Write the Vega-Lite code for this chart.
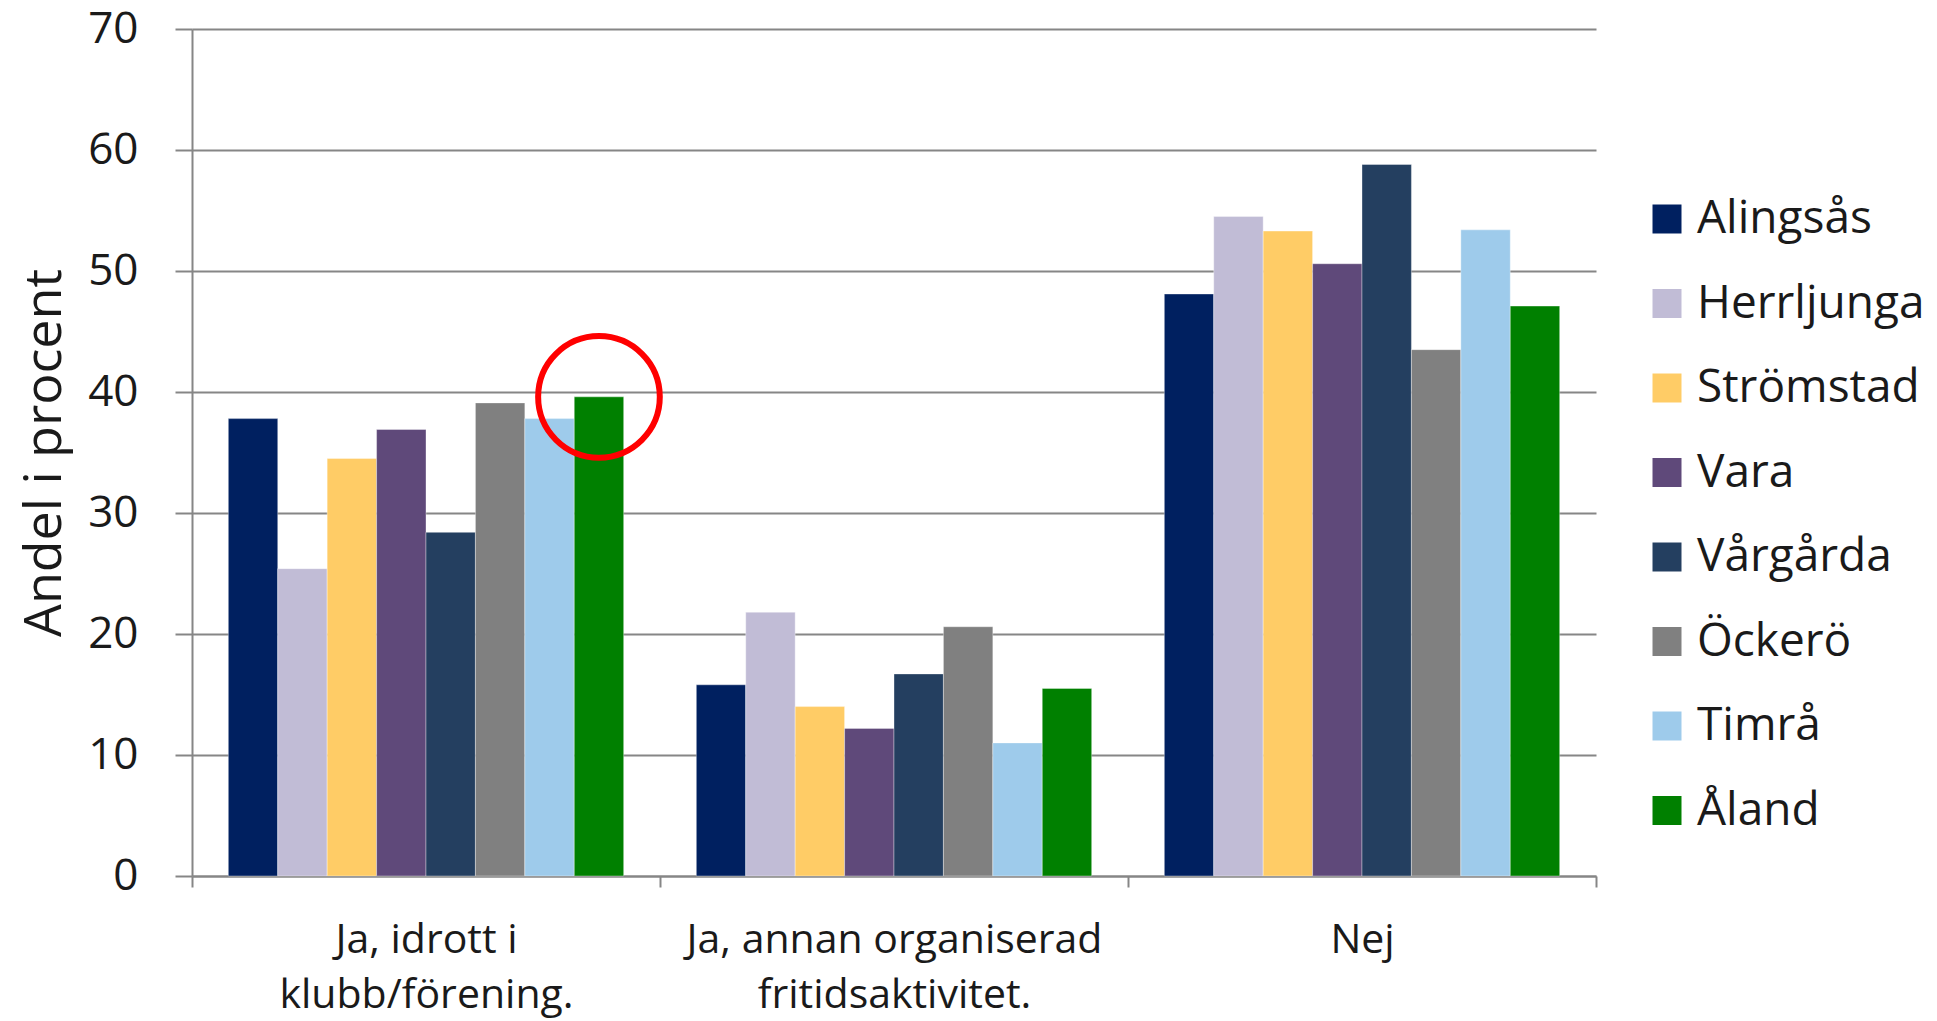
{
  "$schema": "https://vega.github.io/schema/vega-lite/v6.json",
  "width": 1404,
  "height": 847,
  "autosize": {"type": "none"},
  "padding": {"left": 192, "top": 29, "right": 341, "bottom": 145},
  "background": "white",
  "config": {
    "font": "Open Sans",
    "view": {"stroke": null},
    "axis": {"labelColor": "#1a1a1a", "titleColor": "#1a1a1a", "domainColor": "#868686", "tickColor": "#868686", "gridColor": "#868686"}
  },
  "data": {
    "values": [
      {"svar": "Ja, idrott i klubb/förening.", "kommun": "Alingsås", "andel": 37.8},
      {"svar": "Ja, idrott i klubb/förening.", "kommun": "Herrljunga", "andel": 25.4},
      {"svar": "Ja, idrott i klubb/förening.", "kommun": "Strömstad", "andel": 34.5},
      {"svar": "Ja, idrott i klubb/förening.", "kommun": "Vara", "andel": 36.9},
      {"svar": "Ja, idrott i klubb/förening.", "kommun": "Vårgårda", "andel": 28.4},
      {"svar": "Ja, idrott i klubb/förening.", "kommun": "Öckerö", "andel": 39.1},
      {"svar": "Ja, idrott i klubb/förening.", "kommun": "Timrå", "andel": 37.8},
      {"svar": "Ja, idrott i klubb/förening.", "kommun": "Åland", "andel": 39.6},
      {"svar": "Ja, annan organiserad fritidsaktivitet.", "kommun": "Alingsås", "andel": 15.8},
      {"svar": "Ja, annan organiserad fritidsaktivitet.", "kommun": "Herrljunga", "andel": 21.8},
      {"svar": "Ja, annan organiserad fritidsaktivitet.", "kommun": "Strömstad", "andel": 14.0},
      {"svar": "Ja, annan organiserad fritidsaktivitet.", "kommun": "Vara", "andel": 12.2},
      {"svar": "Ja, annan organiserad fritidsaktivitet.", "kommun": "Vårgårda", "andel": 16.7},
      {"svar": "Ja, annan organiserad fritidsaktivitet.", "kommun": "Öckerö", "andel": 20.6},
      {"svar": "Ja, annan organiserad fritidsaktivitet.", "kommun": "Timrå", "andel": 11.0},
      {"svar": "Ja, annan organiserad fritidsaktivitet.", "kommun": "Åland", "andel": 15.5},
      {"svar": "Nej", "kommun": "Alingsås", "andel": 48.1},
      {"svar": "Nej", "kommun": "Herrljunga", "andel": 54.5},
      {"svar": "Nej", "kommun": "Strömstad", "andel": 53.3},
      {"svar": "Nej", "kommun": "Vara", "andel": 50.6},
      {"svar": "Nej", "kommun": "Vårgårda", "andel": 58.8},
      {"svar": "Nej", "kommun": "Öckerö", "andel": 43.5},
      {"svar": "Nej", "kommun": "Timrå", "andel": 53.4},
      {"svar": "Nej", "kommun": "Åland", "andel": 47.1}
    ]
  },
  "encoding": {
    "x": {
      "field": "svar", "type": "nominal", "sort": null,
      "scale": {"paddingInner": 0, "paddingOuter": 0},
      "axis": {
        "title": null, "labelAngle": 0, "tickBand": "extent", "tickSize": 11, "tickWidth": 2,
        "domainWidth": 2, "labelFontSize": 41, "labelPadding": 33, "labelLineHeight": 55,
        "labelBaseline": "top", "labelLimit": 600,
        "labelExpr": "datum.value == 'Ja, idrott i klubb/förening.' ? ['Ja, idrott i', 'klubb/förening.'] : datum.value == 'Ja, annan organiserad fritidsaktivitet.' ? ['Ja, annan organiserad', 'fritidsaktivitet.'] : datum.label"
      }
    },
    "xOffset": {
      "field": "kommun", "type": "nominal",
      "sort": ["Alingsås", "Herrljunga", "Strömstad", "Vara", "Vårgårda", "Öckerö", "Timrå", "Åland"],
      "scale": {"paddingInner": 0, "paddingOuter": 0.735}
    },
    "y": {
      "field": "andel", "type": "quantitative",
      "scale": {"domain": [0, 70], "nice": false},
      "axis": {
        "title": "Andel i procent", "titleFontSize": 52, "titleFontWeight": "normal", "titlePadding": 16,
        "values": [0, 10, 20, 30, 40, 50, 60, 70],
        "tickSize": 17, "tickWidth": 2, "gridWidth": 2, "domainWidth": 2,
        "labelFontSize": 44, "labelPadding": 37
      }
    }
  },
  "layer": [
    {
      "mark": {"type": "bar", "stroke": "#ffffff", "strokeWidth": 0.6, "strokeOpacity": 0.6},
      "encoding": {
        "color": {
          "field": "kommun", "type": "nominal",
          "sort": ["Alingsås", "Herrljunga", "Strömstad", "Vara", "Vårgårda", "Öckerö", "Timrå", "Åland"],
          "scale": {
            "domain": ["Alingsås", "Herrljunga", "Strömstad", "Vara", "Vårgårda", "Öckerö", "Timrå", "Åland"],
            "range": ["#002060", "#C1BCD6", "#FFCC66", "#5F497A", "#243F60", "#808080", "#9ECBEB", "#008000"]
          },
          "legend": {
            "title": null, "orient": "none", "legendX": 1452, "legendY": 167,
            "symbolType": "square", "symbolSize": 841, "symbolStrokeWidth": 0,
            "labelFontSize": 46, "labelColor": "#1a1a1a", "labelOffset": 7, "labelLimit": 400,
            "rowPadding": 38.5
          }
        }
      }
    },
    {
      "transform": [{"filter": "datum.kommun == 'Åland' && datum.svar == 'Ja, idrott i klubb/förening.'"}],
      "mark": {"type": "point", "shape": "circle", "filled": false, "stroke": "#ff0000", "strokeWidth": 6, "size": 14800, "opacity": 1}
    }
  ]
}
